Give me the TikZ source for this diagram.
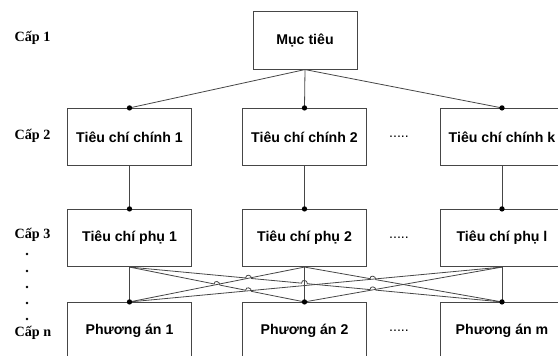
\documentclass[tikz,border=0pt]{standalone}
\usepackage{fontspec}
\setmainfont{Liberation Serif}
\setsansfont{Liberation Sans}
\usetikzlibrary{calc}
\definecolor{LineGray}{RGB}{70,70,70}
\tikzset{%
  box/.style={%
    draw=LineGray, line width=0.6pt, inner sep=0pt,
    font=\sffamily\bfseries\fontsize{10.6}{12}\selectfont,
    minimum width=93pt, minimum height=43pt
  },
  level/.style={anchor=base west, font=\rmfamily\bfseries\fontsize{10.6}{12}\selectfont},
  link/.style={draw=LineGray, line width=0.6pt},
  joint/.style={circle, fill=black, inner sep=0pt, minimum size=4pt},
  gap/.style={font=\sffamily\fontsize{10.6}{12}\selectfont},
}
\newcommand{\hopr}{2.2pt}

\begin{document}
\begin{tikzpicture}[x=0.75pt, y=-0.75pt]
    \clip (0,0) rectangle (558,356);
    \useasboundingbox (0,0) rectangle (558,356);

    % levels
    \node (L1)[level] at (10,42) {Cấp 1};
    \node (L2)[level] at (10,140) {Cấp 2};
    \node (L3)[level] at (10,239) {Cấp 3};
    \node (LN)[level] at (10,337) {Cấp n};
    \foreach \y in {254,271,287,303,319}
        \fill (27,\y) circle (1pt);

    % boxes
    \node (MUCTIEU)[box, minimum width=78pt] at (305,40.5) {Mục tiêu};
    \node (CHINH1)[box] at (129.5,137) {Tiêu chí chính 1};
    \node (CHINH2)[box] at (304.5,137) {Tiêu chí chính 2};
    \node (CHINHK)[box] at (502,137) {Tiêu chí chính k};
    \node (PHU1)[box] at (129.5,238) {Tiêu chí phụ 1};
    \node (PHU2)[box] at (304.5,238) {Tiêu chí phụ 2};
    \node (PHUL)[box] at (502,238) {Tiêu chí phụ l};
    \node (PA1)[box] at (129.5,331) {Phương án 1};
    \node (PA2)[box] at (304.5,331) {Phương án 2};
    \node (PAM)[box] at (502,331) {Phương án m};

    \node (G2)[gap] at (399,137) {.....};
    \node (G3)[gap] at (399,238) {.....};
    \node (GN)[gap] at (399,331) {.....};

    % crossings
    \coordinate (XA) at (intersection of PHU1.south--PAM.north and PHU2.south--PA1.north);
    \coordinate (XV) at (intersection of PHU1.south--PAM.north and PHU2.south--PA2.north);
    \coordinate (XB) at (intersection of PHU1.south--PAM.north and PHUL.south--PA2.north);
    \coordinate (XC) at (intersection of PHU1.south--PA2.north and PHU2.south--PA1.north);
    \coordinate (XD) at (intersection of PHU1.south--PA2.north and PHUL.south--PA1.north);
    \coordinate (XE) at (intersection of PHU2.south--PAM.north and PHUL.south--PA1.north);

    \path[link]
        (MUCTIEU.south) edge (CHINH1.north)
        (MUCTIEU.south) edge (CHINH2.north)
        (MUCTIEU.south) edge (CHINHK.north)
        (CHINH1.south) edge (PHU1.north)
        (CHINH2.south) edge (PHU2.north)
        (CHINHK.south) edge (PHUL.north)
        (PHU1.south) edge (PA1.north)
        (PHU2.south) edge (PA2.north)
        (PHUL.south) edge (PAM.north)
        (PHU2.south) edge (PA1.north)
        (PHUL.south) edge (PA1.north)
        (PHUL.south) edge (PA2.north)
    ;
    \draw[link] (PHU1.south)
        -- ($(XC)!\hopr!(PHU1.south)$) .. controls +(0,3pt) and +(0,3pt) .. ($(XC)!\hopr!(PA2.north)$)
        -- ($(XD)!\hopr!(PHU1.south)$) .. controls +(0,3pt) and +(0,3pt) .. ($(XD)!\hopr!(PA2.north)$)
        -- (PA2.north);
    \draw[link] (PHU1.south)
        -- ($(XA)!\hopr!(PHU1.south)$) .. controls +(0,3pt) and +(0,3pt) .. ($(XA)!\hopr!(PAM.north)$)
        -- ($(XV)!\hopr!(PHU1.south)$) .. controls +(0,3pt) and +(0,3pt) .. ($(XV)!\hopr!(PAM.north)$)
        -- ($(XB)!\hopr!(PHU1.south)$) .. controls +(0,3pt) and +(0,3pt) .. ($(XB)!\hopr!(PAM.north)$)
        -- (PAM.north);
    \draw[link] (PHU2.south)
        -- ($(XE)!\hopr!(PHU2.south)$) .. controls +(0,3pt) and +(0,3pt) .. ($(XE)!\hopr!(PAM.north)$)
        -- (PAM.north);

    % joints
    \foreach \n in {CHINH1,CHINH2,CHINHK,PHU1,PHU2,PHUL,PA1,PA2,PAM}
        \node[joint] at (\n.north) {};
\end{tikzpicture}
\end{document}
